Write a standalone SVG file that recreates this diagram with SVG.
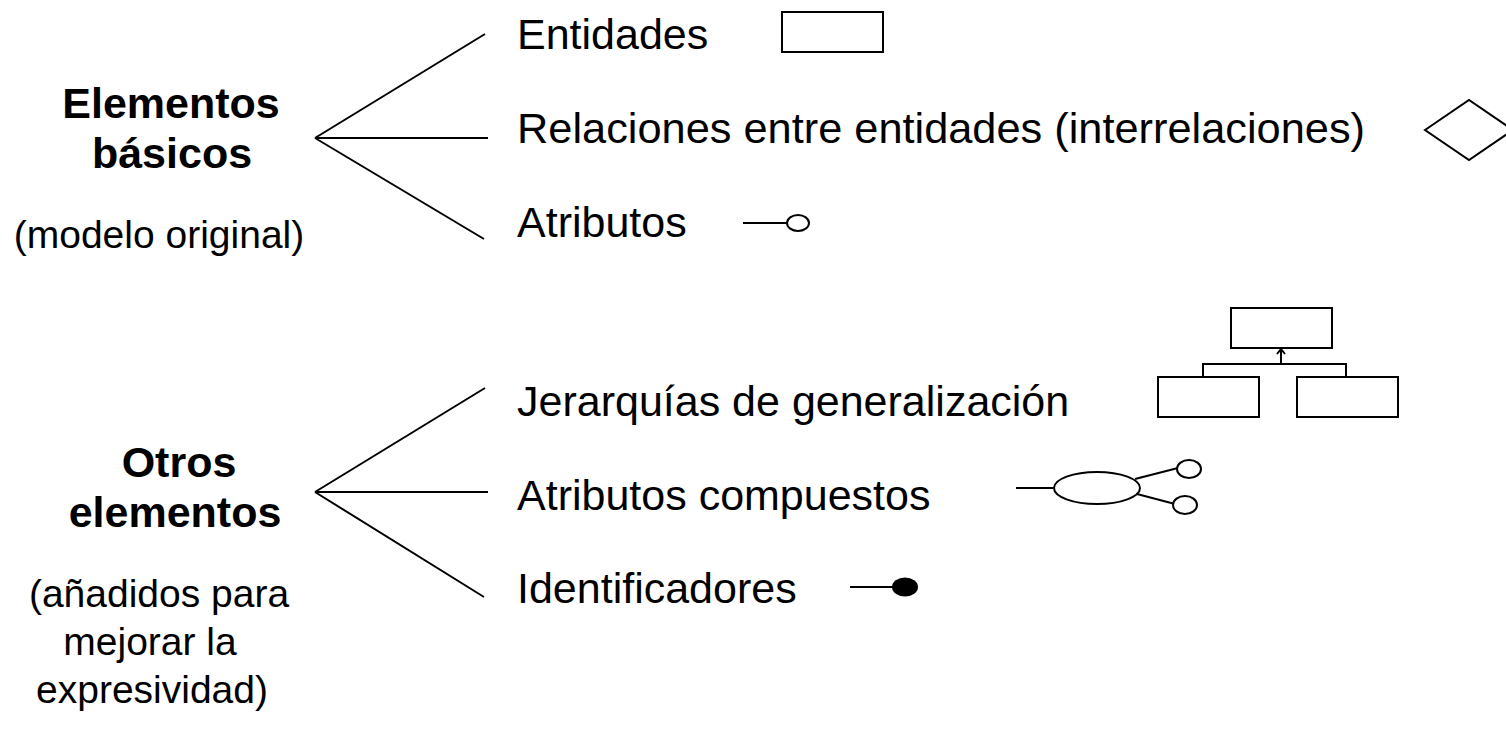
<svg xmlns="http://www.w3.org/2000/svg" width="1506" height="741" viewBox="0 0 1506 741">
<style>
text{font-family:"Liberation Sans",Arial,sans-serif;fill:#000}
.t{font-size:43px}
.h{font-size:43px;font-weight:bold;text-anchor:middle}
.s{font-size:39px;text-anchor:middle}
.ln{stroke:#000;stroke-width:2;fill:none}
.sh{stroke:#000;stroke-width:2;fill:#fff}
</style>
<rect width="1506" height="741" fill="#fff"/>
<g id="basicos">
<text class="h" x="171" y="118">Elementos</text>
<text class="h" x="172" y="168">básicos</text>
<text class="s" x="159" y="248">(modelo original)</text>
</g>
<g id="otros">
<text class="h" x="179" y="477">Otros</text>
<text class="h" x="175" y="527">elementos</text>
<text class="s" x="159" y="607">(añadidos para</text>
<text class="s" x="150" y="655">mejorar la</text>
<text class="s" x="152" y="703">expresividad)</text>
</g>
<g id="connectors">
<line class="ln" x1="315" y1="138" x2="485" y2="34"/>
<line class="ln" x1="315" y1="138" x2="488" y2="138"/>
<line class="ln" x1="315" y1="138" x2="484" y2="239"/>
<line class="ln" x1="315" y1="492" x2="485" y2="388"/>
<line class="ln" x1="315" y1="492" x2="488" y2="492"/>
<line class="ln" x1="315" y1="492" x2="484" y2="597"/>
</g>
<g id="entidades">
<text class="t" x="517" y="49">Entidades</text>
<rect class="sh" x="782" y="12" width="101" height="40"/>
</g>
<g id="relaciones">
<text class="t" x="517" y="143" textLength="848" lengthAdjust="spacingAndGlyphs">Relaciones entre entidades (interrelaciones)</text>
<polygon class="sh" points="1425,130 1469,100 1513,130 1469,160"/>
</g>
<g id="atributos">
<text class="t" x="517" y="237">Atributos</text>
<line class="ln" x1="743" y1="223" x2="787" y2="223"/>
<ellipse class="sh" cx="798" cy="223" rx="11" ry="8"/>
</g>
<g id="jerarquias">
<text class="t" x="517" y="416">Jerarquías de generalización</text>
<rect class="sh" x="1231" y="308" width="101" height="40"/>
<polyline class="ln" points="1203,377 1203,364 1346,364 1346,377"/>
<line class="ln" x1="1281" y1="364" x2="1281" y2="350"/>
<polyline class="ln" points="1277,354 1281,349 1285,354"/>
<rect class="sh" x="1158" y="377" width="101" height="40"/>
<rect class="sh" x="1297" y="377" width="101" height="40"/>
</g>
<g id="compuestos">
<text class="t" x="517" y="510">Atributos compuestos</text>
<line class="ln" x1="1016" y1="488" x2="1055" y2="488"/>
<line class="ln" x1="1135" y1="479" x2="1178" y2="468"/>
<line class="ln" x1="1137" y1="494" x2="1175" y2="504"/>
<ellipse class="sh" cx="1097" cy="488" rx="43" ry="16"/>
<ellipse class="sh" cx="1189" cy="469" rx="12" ry="9"/>
<ellipse class="sh" cx="1185" cy="505" rx="12" ry="9"/>
</g>
<g id="identificadores">
<text class="t" x="517" y="603">Identificadores</text>
<line class="ln" x1="850" y1="587" x2="893" y2="587"/>
<ellipse cx="905" cy="587" rx="13" ry="9.5" fill="#000"/>
</g>
</svg>
